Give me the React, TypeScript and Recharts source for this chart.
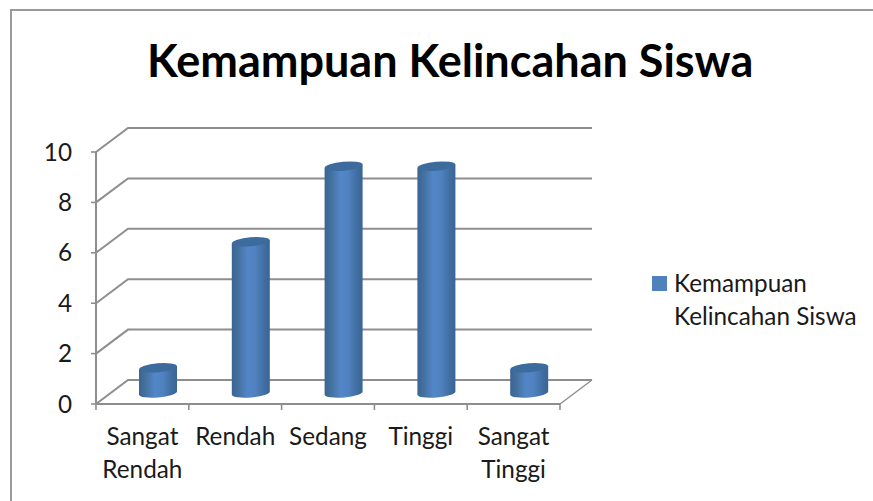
import { BarChart, Bar, XAxis, YAxis, CartesianGrid, Legend } from "recharts";

const categories = ["Sangat Rendah", "Rendah", "Sedang", "Tinggi", "Sangat Tinggi"];
const values = [1, 6, 9, 9, 1];
const yTicks = [0, 2, 4, 6, 8, 10];
const seriesName = "Kemampuan Kelincahan Siswa";

const data = categories.map((name, i) => ({ name, value: values[i] }));

const FONT = "Lato, 'Noto Sans', sans-serif";
const LABEL_SIZE = 24.3;
const GRID = "#8e8e8e";
const PLOT_W = 464;
const STEP = PLOT_W / categories.length;
// how far the back wall sits from the front axes
const DEPTH_X = 32;
const DEPTH_Y = 24;

function WallLine({ x1, x2, y1, index }: any) {
  const isFloor = index === 0;
  return (
    <g fill="none" stroke={GRID} strokeWidth={2}>
      <polyline points={`${x1},${y1} ${x1 + DEPTH_X},${y1 - DEPTH_Y} ${x2 + DEPTH_X},${y1 - DEPTH_Y}`} />
      {isFloor && <line x1={x2} y1={y1} x2={x2 + DEPTH_X} y2={y1 - DEPTH_Y} strokeWidth={1.4} />}
    </g>
  );
}

function Cylinder({ x, y, width, height, index }: any) {
  const left = x + 16;
  const right = left + width;
  const top = y - 11;
  const bottom = y + height - 11;
  const cx = (left + right) / 2;
  const rx = width / 2;
  const tilt = 1.7;
  const id = `cyl${index}`;
  return (
    <g>
      <defs>
        <linearGradient id={id} x1="0" y1="0" x2="1" y2="0">
          <stop offset="0" stopColor="#3a6494" />
          <stop offset="0.18" stopColor="#44729f" />
          <stop offset="0.42" stopColor="#5386c8" />
          <stop offset="0.62" stopColor="#5082bf" />
          <stop offset="0.88" stopColor="#3f6c9f" />
          <stop offset="1" stopColor="#3a6494" />
        </linearGradient>
      </defs>
      <path
        d={`M${left},${top + tilt} L${left},${bottom + tilt} A${rx},4.5 -5 0 0 ${right},${bottom - tilt} L${right},${top - tilt} Z`}
        fill={`url(#${id})`}
      />
      <ellipse cx={cx} cy={top} rx={rx} ry={4.5} fill="#3e6b9e" transform={`rotate(-5 ${cx} ${top})`} />
    </g>
  );
}

function CategoryTick({ x, y, payload, index }: any) {
  const words = String(payload.value).split(" ");
  return (
    <g>
      <line x1={x - STEP / 2} y1={y - 8} x2={x - STEP / 2} y2={y - 2} stroke={GRID} strokeWidth={1.6} />
      {index === categories.length - 1 && (
        <line x1={x + STEP / 2} y1={y - 8} x2={x + STEP / 2} y2={y - 2} stroke={GRID} strokeWidth={1.6} />
      )}
      <text x={x} y={y + 33} textAnchor="middle" fontSize={LABEL_SIZE} fontFamily={FONT} fill="#1a1a1a">
        {words.map((w, i) => (
          <tspan key={w} x={x} dy={i === 0 ? 0 : 33}>
            {w}
          </tspan>
        ))}
      </text>
    </g>
  );
}

function LegendBox() {
  const [first, ...rest] = seriesName.split(" ");
  return (
    <div style={{ position: "relative", fontFamily: FONT, fontSize: LABEL_SIZE, lineHeight: "33px", color: "#1a1a1a", whiteSpace: "nowrap" }}>
      <span style={{ position: "absolute", left: 0, top: 10, width: 15, height: 15, background: "#4f81bd" }} />
      <div style={{ paddingLeft: 22 }}>
        {first}
        <br />
        {rest.join(" ")}
      </div>
    </div>
  );
}

export default function App() {
  return (
    <div style={{ position: "absolute", left: 0, top: 0, width: 873, height: 501, background: "#fff", overflow: "hidden" }}>
      <div style={{ position: "absolute", left: 10, top: 9, width: 863, height: 492, borderLeft: "2px solid #9a9a9a", borderTop: "2px solid #9a9a9a" }} />
      <div
        style={{
          position: "absolute",
          left: 147,
          top: 35,
          fontFamily: FONT,
          fontWeight: 700,
          fontSize: 45,
          lineHeight: "50px",
          color: "#000",
          whiteSpace: "nowrap",
        }}
      >
        {seriesName}
      </div>
      <BarChart width={873} height={501} data={data} margin={{ top: 152, right: 313, bottom: 0, left: 0 }} barSize={38} style={{ position: "absolute", left: 0, top: 0 }}>
        <CartesianGrid vertical={false} horizontal={(p: any) => <WallLine key={p.index} {...p} />} />
        <XAxis
          dataKey="name"
          height={97}
          interval={0}
          axisLine={{ stroke: GRID, strokeWidth: 2 }}
          tickLine={false}
          tick={<CategoryTick />}
        />
        <YAxis
          domain={[0, 10]}
          ticks={yTicks}
          width={96}
          tickSize={5}
          tickMargin={19}
          axisLine={{ stroke: GRID, strokeWidth: 2 }}
          tickLine={{ stroke: GRID, strokeWidth: 1.6 }}
          tick={{ fontSize: LABEL_SIZE, fontFamily: FONT, fill: "#1a1a1a" }}
        />
        <Legend layout="vertical" align="center" verticalAlign="middle" wrapperStyle={{ left: 652, top: 266, width: 215 }} content={<LegendBox />} />
        <Bar dataKey="value" name={seriesName} fill="#4f81bd" isAnimationActive={false} shape={<Cylinder />} />
      </BarChart>
    </div>
  );
}
